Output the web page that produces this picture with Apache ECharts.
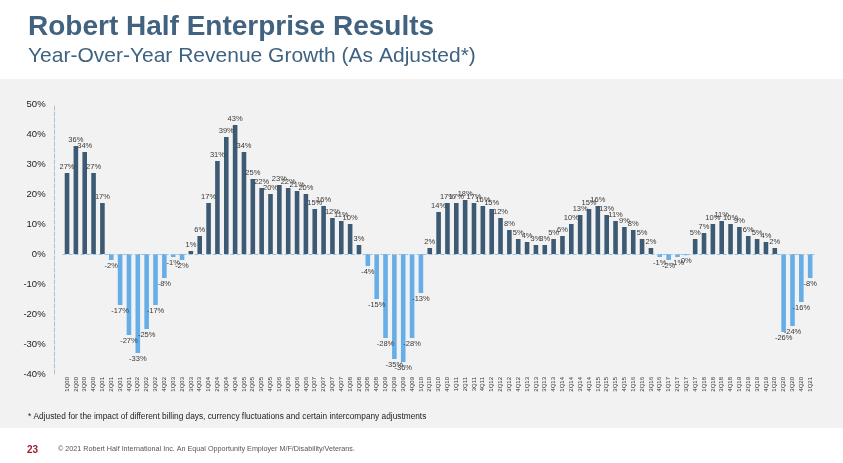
<!DOCTYPE html>
<html>
<head>
<meta charset="utf-8">
<script src="https://cdn.jsdelivr.net/npm/echarts@6/dist/echarts.min.js"></script>
<style>
  html,body{margin:0;padding:0;background:#fff;}
  #band{position:absolute;left:0;top:79px;width:843px;height:349px;background:#f2f2f2;}
  #main{position:absolute;left:0;top:0;width:843px;height:463px;}
</style>
</head>
<body>
<div id="band"></div>
<div id="main"></div>
<script>
// quarter labels 1Q00 .. 1Q21
var years = ['00','01','02','03','04','05','06','07','08','09','10','11','12','13','14','15','16','17','18','19','20','21'];
var quarters = [];
for (var i = 0; i < years.length; i++) {
  for (var q = 1; q <= 4; q++) {
    if (years[i] == '21' && q > 1) break;
    quarters.push(q + 'Q' + years[i]);
  }
}

// yoy revenue growth, %
var growth = [
  27, 36, 34, 27,
  17, -2, -17, -27,
  -33, -25, -17, -8,
  -1, -2, 1, 6,
  17, 31, 39, 43,
  34, 25, 22, 20,
  23, 22, 21, 20,
  15, 16, 12, 11,
  10, 3, -4, -15,
  -28, -35, -36, -28,
  -13, 2, 14, 17,
  17, 18, 17, 16,
  15, 12, 8, 5,
  4, 3, 3, 5,
  6, 10, 13, 15,
  16, 13, 11, 9,
  8, 5, 2, -1,
  -2, -1, -0.4, 5,
  7, 10, 11, 10,
  9, 6, 5, 4,
  2, -26, -24, -16,
  -8
];

var yTicks = [-40, -30, -20, -10, 0, 10, 20, 30, 40, 50];

var darkBlue = '#3c5a73';
var lightBlue = '#66aee8';
var axisBlue = '#9cc3e3';
var font = 'Liberation Sans, Arial, sans-serif';

// build bar items: dark up, light down, label at the bar end
var barData = [];
for (var k = 0; k < growth.length; k++) {
  var v = growth[k];
  barData.push({
    value: v,
    itemStyle: {color: v < 0 ? lightBlue : darkBlue},
    label: {position: v < 0 ? 'bottom' : 'top'}
  });
}

var chart = echarts.init(document.getElementById('main'));
chart.setOption({
  animation: false,
  textStyle: {fontFamily: font},
  title: [
    {text: 'Robert Half Enterprise Results', left: 23, top: 8,
      textStyle: {fontSize: 28, fontWeight: 'bold', color: '#41637f', fontFamily: font}},
    {text: 'Year-Over-Year Revenue Growth (As Adjusted*)', left: 23, top: 41,
      textStyle: {fontSize: 21, fontWeight: 'normal', color: '#3e6382', fontFamily: font}},
    {text: '* Adjusted for the impact of different billing days, currency fluctuations and certain intercompany adjustments',
      left: 23, top: 408, textStyle: {fontSize: 8.3, fontWeight: 'normal', color: '#222', fontFamily: font}},
    {text: '23', left: 22, top: 440,
      textStyle: {fontSize: 10, fontWeight: 'bold', color: '#a51c30', fontFamily: font}},
    {text: '\u00a9 2021 Robert Half International Inc. An Equal Opportunity Employer M/F/Disability/Veterans.',
      left: 53, top: 441, textStyle: {fontSize: 7.2, fontWeight: 'normal', color: '#555', fontFamily: font}}
  ],
  grid: {left: 62.6, right: 28.4, top: 104, bottom: 89},
  xAxis: {
    type: 'category',
    data: quarters,
    axisLine: {show: false, onZero: false},
    axisTick: {show: false},
    axisLabel: {rotate: 90, interval: 0, fontSize: 6, color: '#333', margin: 3}
  },
  yAxis: {
    type: 'value',
    min: yTicks[0],
    max: yTicks[yTicks.length - 1],
    interval: 10,
    offset: 8,
    axisLine: {show: true, lineStyle: {color: axisBlue, type: 'dashed', width: 1}},
    axisTick: {show: false},
    splitLine: {show: false},
    axisLabel: {fontSize: 9.5, color: '#222', margin: 9, formatter: '{value}%'}
  },
  series: [{
    type: 'bar',
    data: barData,
    barWidth: '52%',
    label: {
      show: true,
      distance: 2,
      fontSize: 7.5,
      color: '#3a3a3a',
      formatter: function (p) { return Math.round(p.value) + '%'; }
    },
    markLine: {
      silent: true,
      symbol: 'none',
      label: {show: false},
      lineStyle: {color: axisBlue, type: 'dashed', width: 1},
      data: [{yAxis: 0}]
    }
  }]
});
</script>
</body>
</html>
